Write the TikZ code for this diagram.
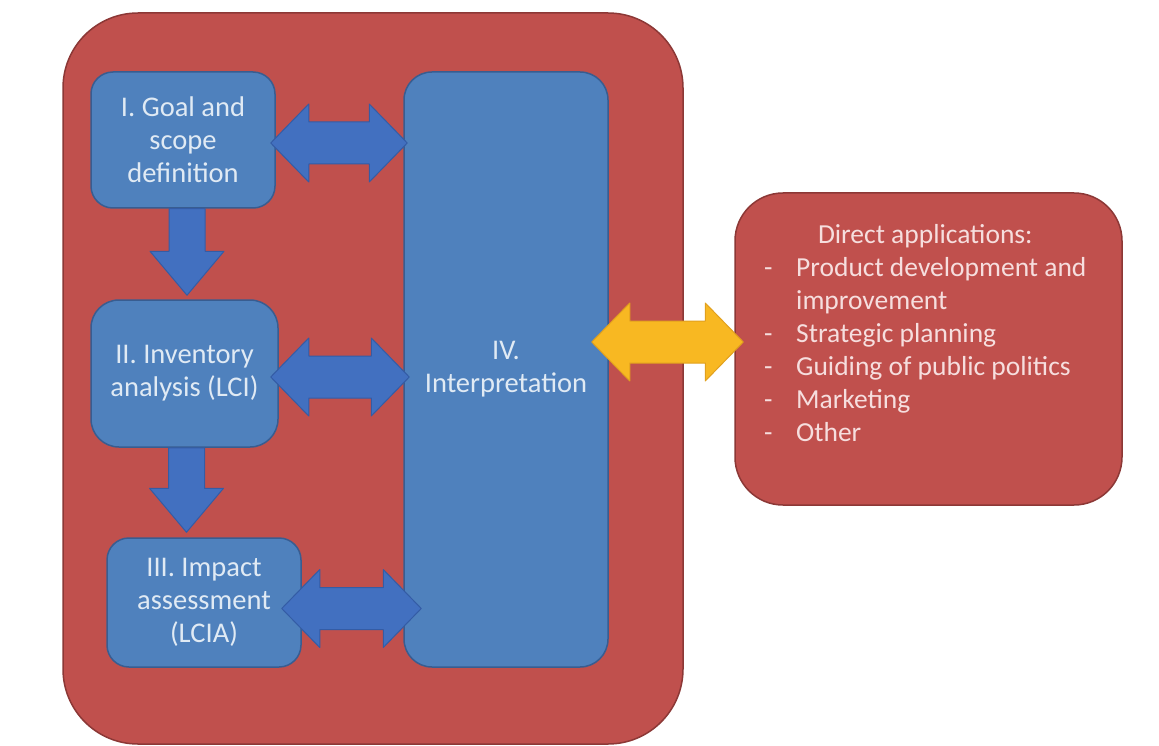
\documentclass[tikz,border=0pt]{standalone}
\usepackage{fontspec}
\setmainfont{Carlito}
\usetikzlibrary{calc}
\definecolor{redfill}{RGB}{192,80,77}
\definecolor{redline}{RGB}{140,56,54}
\definecolor{bluefill}{RGB}{79,129,189}
\definecolor{blueline}{RGB}{56,93,145}
\definecolor{arrowblue}{RGB}{66,112,192}
\definecolor{arrowline}{RGB}{52,92,165}
\definecolor{yellowfill}{RGB}{248,184,34}
\definecolor{yellowline}{RGB}{225,160,30}
\definecolor{bluetext}{RGB}{224,234,244}
\definecolor{redtext}{RGB}{246,222,222}
% horizontal double arrow between two points (same height as the first)
\newcommand\hdbl[3]{%
  \path[#1] let \p1=(#2), \p2=(#3) in
    (\x1,\y1) -- (\x1+38pt,\y1+39pt) -- (\x1+38pt,\y1+21pt) --
    (\x2-38pt,\y1+21pt) -- (\x2-38pt,\y1+39pt) -- (\x2,\y1) --
    (\x2-38pt,\y1-39pt) -- (\x2-38pt,\y1-21pt) --
    (\x1+38pt,\y1-21pt) -- (\x1+38pt,\y1-39pt) -- cycle;}
% downward block arrow
\newcommand\vdn[3]{%
  \path[#1] let \p1=(#2), \p2=(#3) in
    (\x1-18pt,\y1) -- (\x1+18pt,\y1) -- (\x1+18pt,\y2+44pt) --
    (\x1+37pt,\y2+44pt) -- (\x1,\y2) -- (\x1-37pt,\y2+44pt) --
    (\x1-18pt,\y2+44pt) -- cycle;}
\begin{document}
\begin{tikzpicture}[x=1pt,y=-1pt,
  redbox/.style={draw=redline, line width=1.5pt, fill=redfill, inner sep=0pt},
  bluebox/.style={draw=blueline, line width=1.5pt, fill=bluefill,
    text=bluetext, align=center, inner sep=0pt,
    font=\fontsize{28.5}{33}\selectfont},
  bluearrow/.style={fill=arrowblue, draw=arrowline, line width=1pt, line join=round},
  yellowarrow/.style={fill=yellowfill, draw=yellowline, line width=1pt, line join=round},
  apptext/.style={text=redtext, inner sep=0pt, font=\fontsize{27.5}{33}\selectfont}]
\useasboundingbox (0,0) rectangle (1159,746);
\fill[white] (0,0) rectangle (1159,746);

% outer frame
\node[redbox, rounded corners=75pt, minimum width=620pt, minimum height=731pt] (frame) at (373,378.5) {};

% phase boxes
\node[bluebox, rounded corners=22pt, minimum width=184pt, minimum height=136pt] (b1) at (183,140)
  {I. Goal and\\scope\\definition};
\node[bluebox, rounded corners=28pt, minimum width=187pt, minimum height=147pt] (b2) at (184.5,373.5)
  {II. Inventory\\analysis (LCI)};
\node[bluebox, rounded corners=22pt, minimum width=194pt, minimum height=129pt] (b3) at (204,602.5)
  {III. Impact\\assessment\\(LCIA)};
\node[bluebox, rounded corners=28pt, minimum width=204pt, minimum height=595pt] (b4) at (506,369.5)
  {IV.\\Interpretation};

% applications box
\node[redbox, rounded corners=48pt, minimum width=387pt, minimum height=312pt] (app) at (928.5,349) {};
\node[apptext, anchor=north west] (apptxt) at (764,220) {%
  \renewcommand\arraystretch{1}%
  \begin{tabular}{@{}p{32pt}@{}l@{}}
  \multicolumn{2}{@{}c@{}}{Direct applications:}\\
  - & Product development and\\
    & improvement\\
  - & Strategic planning\\
  - & Guiding of public politics\\
  - & Marketing\\
  - & Other
  \end{tabular}};

% arrows
\vdn{bluearrow}{$(b1.south)+(4,0)$}{$(b2.north)+(0,-4)$}
\vdn{bluearrow}{$(b2.south)+(2,0)$}{$(b3.north)+(0,-5)$}
\hdbl{bluearrow}{$(b1.east)+(-5,3)$}{$(b4.west |- b1.east)+(4,3)$}
\hdbl{bluearrow}{$(b2.east)+(-8,3.5)$}{$(b4.west |- b2.east)+(6,3.5)$}
\hdbl{bluearrow}{$(b3.east)+(-20,6)$}{$(b4.west |- b3.east)+(18,6)$}
\hdbl{yellowarrow}{$(b4.east |- app.west)+(-17,-7)$}{$(app.west)+(9,-7)$}
\end{tikzpicture}
\end{document}
